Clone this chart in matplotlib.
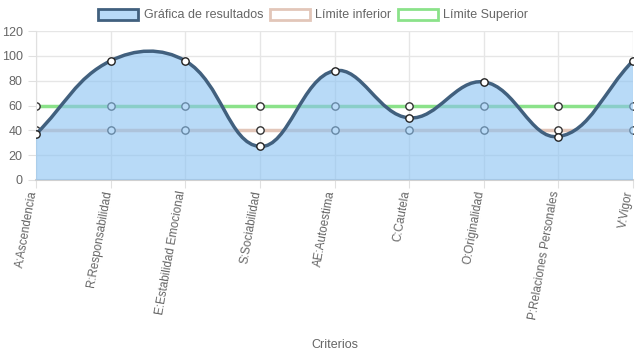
import matplotlib.pyplot as plt
from matplotlib.path import Path
from matplotlib.patches import PathPatch, Patch
import numpy as np

plt.rcParams['font.family'] = ['Liberation Sans', 'DejaVu Sans']

criterios = ['A:Ascendencia', 'R:Responsabilidad', 'E:Estabilidad Emocional',
             'S:Sociabilidad', 'AE:Autoestima', 'C:Cautela', 'O:Originalidad',
             'P:Relaciones Personales', 'V:Vigor']
resultados = [37, 96, 96, 27, 88, 50, 79, 35, 96]
limite_inferior = [40, 40, 40, 40, 40, 40, 40, 40, 40]
limite_superior = [60, 60, 60, 60, 60, 60, 60, 60, 60]

azul_linea = '#41607e'
azul_fondo = (0.54, 0.76, 0.95, 0.6)
rosa = '#e2c6b9'
verde = '#8be28a'
gris = '#666666'


def curva(xs, ys, sx, sy, t=0.4):
    # puntos de control como chart.js (tension 0.4), distancias en pixeles
    n = len(xs)
    verts = [(xs[0], ys[0])]
    codes = [Path.MOVETO]
    ctrl = []
    for i in range(n):
        p = (xs[max(i - 1, 0)], ys[max(i - 1, 0)])
        c = (xs[i], ys[i])
        q = (xs[min(i + 1, n - 1)], ys[min(i + 1, n - 1)])
        d01 = np.hypot((c[0] - p[0]) * sx, (c[1] - p[1]) * sy)
        d12 = np.hypot((q[0] - c[0]) * sx, (q[1] - c[1]) * sy)
        s01 = d01 / (d01 + d12)
        s12 = d12 / (d01 + d12)
        antes = (c[0] - t * s01 * (q[0] - p[0]), c[1] - t * s01 * (q[1] - p[1]))
        despues = (c[0] + t * s12 * (q[0] - p[0]), c[1] + t * s12 * (q[1] - p[1]))
        ctrl.append((antes, despues))
    for i in range(n - 1):
        verts += [ctrl[i][1], ctrl[i + 1][0], (xs[i + 1], ys[i + 1])]
        codes += [Path.CURVE4] * 3
    return verts, codes


fig = plt.figure(figsize=(6.37, 3.59), dpi=100)
ax = fig.add_axes([36 / 637, 1 - 180 / 359, 597 / 637, 149 / 359])

x = np.arange(len(criterios))
ax.set_xlim(0, len(criterios) - 1)
ax.set_ylim(0, 120)

# limites
ax.plot(x, limite_superior, color=verde, lw=2.5, zorder=2)
ax.plot(x, limite_inferior, color=rosa, lw=2.5, zorder=2)
ax.scatter(x, limite_superior, s=28, facecolor='white', edgecolor='#333333', lw=1, zorder=2.5)
ax.scatter(x, limite_inferior, s=28, facecolor='white', edgecolor='#333333', lw=1, zorder=2.5)

# resultados
sx = 597 / (len(criterios) - 1)
sy = 149 / 120
verts, codes = curva(list(x), resultados, sx, sy)
fondo = verts + [(x[-1], 0), (x[0], 0), (x[0], resultados[0])]
fcodes = codes + [Path.LINETO, Path.LINETO, Path.CLOSEPOLY]
ax.add_patch(PathPatch(Path(fondo, fcodes), facecolor=azul_fondo, edgecolor='none', zorder=3))
ax.add_patch(PathPatch(Path(verts, codes), facecolor='none', edgecolor=azul_linea, lw=2.5, zorder=4))
ax.scatter(x, resultados, s=28, facecolor='white', edgecolor='#222222', lw=1, zorder=5)

ax.set_yticks(range(0, 121, 20))
ax.set_xticks(x)
ax.set_xticklabels(criterios, rotation=80, ha='right', va='baseline', rotation_mode='anchor',
                   fontsize=8.4)
ax.grid(True, color='#e6e6e6', lw=1, zorder=0)
ax.set_axisbelow(True)
for s in ['top', 'right']:
    ax.spines[s].set_visible(False)
ax.spines['left'].set_color('#e0e0e0')
ax.spines['bottom'].set_color('#d0d0d0')
ax.spines['bottom'].set_linewidth(1.5)
ax.tick_params(axis='both', colors='#e0e0e0', labelcolor=gris, length=6)
ax.tick_params(axis='y', labelsize=9)
ax.tick_params(axis='x', pad=2)
ax.set_xlabel('Criterios', color=gris, fontsize=9)
ax.xaxis.set_label_coords(0.5, -1.07)

handles = [Patch(facecolor=azul_fondo, edgecolor=azul_linea, lw=2),
           Patch(facecolor='white', edgecolor=rosa, lw=2),
           Patch(facecolor='white', edgecolor=verde, lw=2)]
fig.legend(handles, ['Gráfica de resultados', 'Límite inferior', 'Límite Superior'],
           loc='center', bbox_to_anchor=(0.492, 1 - 15 / 359), ncol=3, frameon=False,
           fontsize=9, labelcolor=gris, handlelength=3.2, handleheight=1.0,
           columnspacing=0.5, handletextpad=0.45)

fig.savefig('out.png', dpi=100)
